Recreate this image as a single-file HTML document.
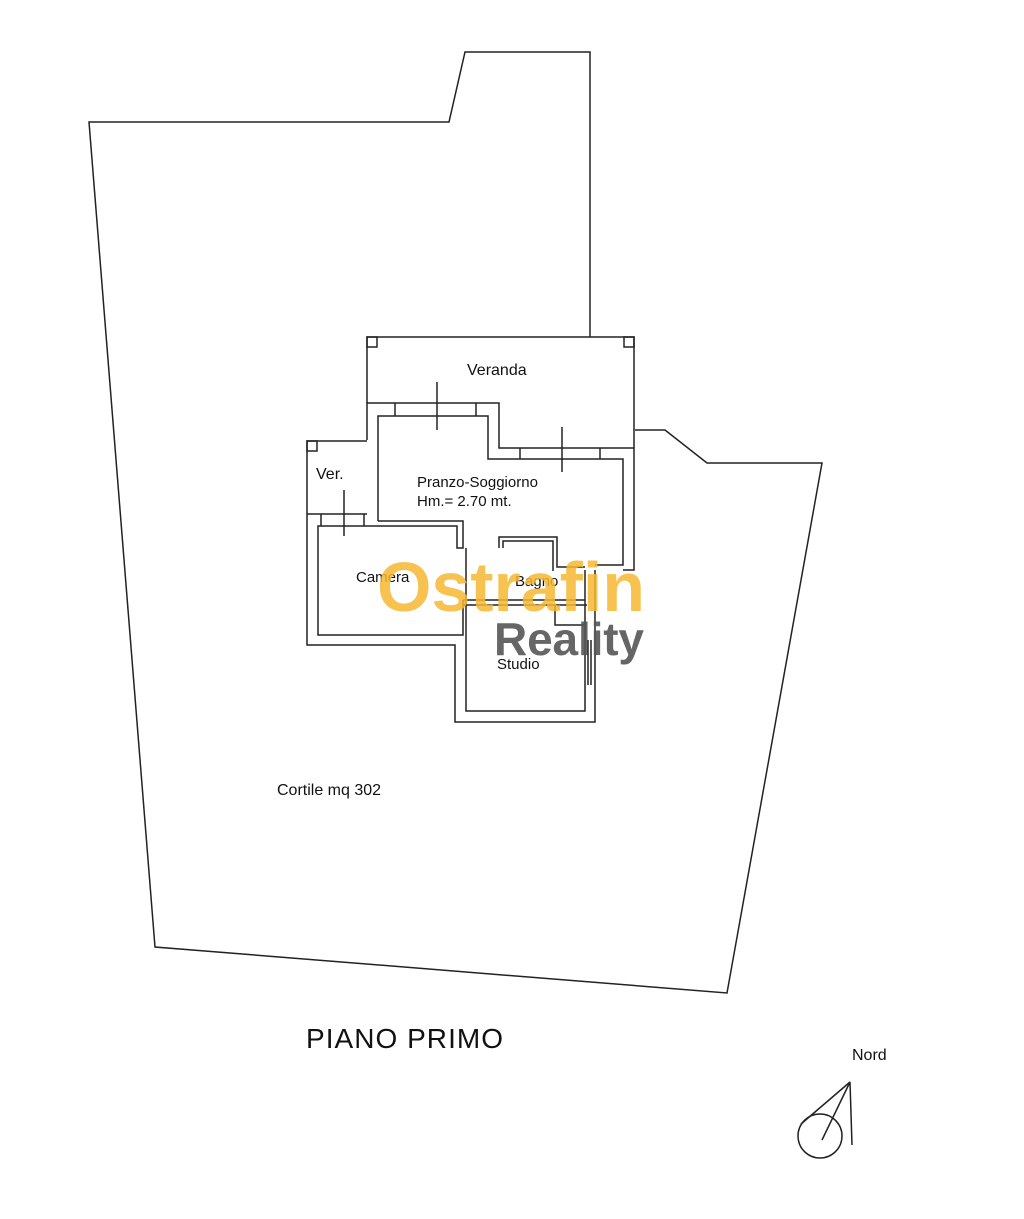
<!DOCTYPE html>
<html><head><style>body{margin:0;background:#fff}svg{display:block}text{font-family:"Liberation Sans",sans-serif;fill:#111}</style></head>
<body>
<svg width="1024" height="1219" viewBox="0 0 1024 1219" xmlns="http://www.w3.org/2000/svg">
<g fill="none" stroke="#222" stroke-width="1.5">
<polyline points="590,337 590,52 465,52 449,122 89,122 155,947 727,993 822,463 707,463 665,430 635,430"/>
<polyline points="367,403 367,337 634,337 634,448"/>
<rect x="367" y="337" width="10" height="10"/><rect x="624" y="337" width="10" height="10"/>
<polyline points="367,440 367,403 499,403 499,448 634,448 634,570 623,570"/>
<polyline points="378,521 378,416 488,416 488,459 623,459 623,565 595,565"/>
<line x1="395" y1="403" x2="395" y2="416"/><line x1="476" y1="403" x2="476" y2="416"/>
<line x1="520" y1="448" x2="520" y2="459"/><line x1="600" y1="448" x2="600" y2="459"/>
<line x1="437" y1="382" x2="437" y2="430"/><line x1="562" y1="427" x2="562" y2="472"/>
<polyline points="367,441 307,441 307,645 455,645 455,722 595,722 595,570"/>
<rect x="307" y="441" width="10" height="10"/>
<line x1="307" y1="514" x2="367" y2="514"/>
<line x1="344" y1="490" x2="344" y2="536"/>
<line x1="321" y1="514" x2="321" y2="526"/><line x1="364" y1="514" x2="364" y2="526"/>
<polyline points="378,521 463,521 463,548 457,548 457,526 318,526 318,635 463,635 463,600"/>
<polyline points="466,548 466,711 585,711 585,570"/>
<line x1="463" y1="600" x2="585" y2="600"/>
<line x1="463" y1="605" x2="587" y2="605"/>
<polyline points="499,548 499,537 557,537 557,567 585,567"/>
<polyline points="503,548 503,541 553,541 553,571"/>
<polyline points="555,605 555,625 585,625"/>
<line x1="588" y1="640" x2="588" y2="685"/><line x1="591" y1="640" x2="591" y2="685"/>
<circle cx="820" cy="1136" r="22"/>
<polyline points="822,1140 850,1082 852,1145"/>
<line x1="801" y1="1124" x2="850" y2="1082"/>
</g>
<text x="467" y="375" font-size="16">Veranda</text>
<text x="316" y="479" font-size="16">Ver.</text>
<text x="417" y="487" font-size="15">Pranzo-Soggiorno</text>
<text x="417" y="506" font-size="15">Hm.= 2.70 mt.</text>
<text x="356" y="582" font-size="15">Camera</text>
<text x="515" y="586" font-size="15">Bagno</text>
<text x="497" y="669" font-size="15">Studio</text>
<text x="277" y="795" font-size="16">Cortile mq 302</text>
<text x="306" y="1048" font-size="28" textLength="197">PIANO PRIMO</text>
<text x="852" y="1060" font-size="16">Nord</text>
<text x="377" y="611" font-size="70" font-weight="bold" textLength="268" style="fill:#f7b733;fill-opacity:0.85">Ostrafin</text>
<text x="494" y="655" font-size="46" font-weight="bold" textLength="150" style="fill:#555;fill-opacity:0.9">Reality</text>
</svg>
</body></html>
